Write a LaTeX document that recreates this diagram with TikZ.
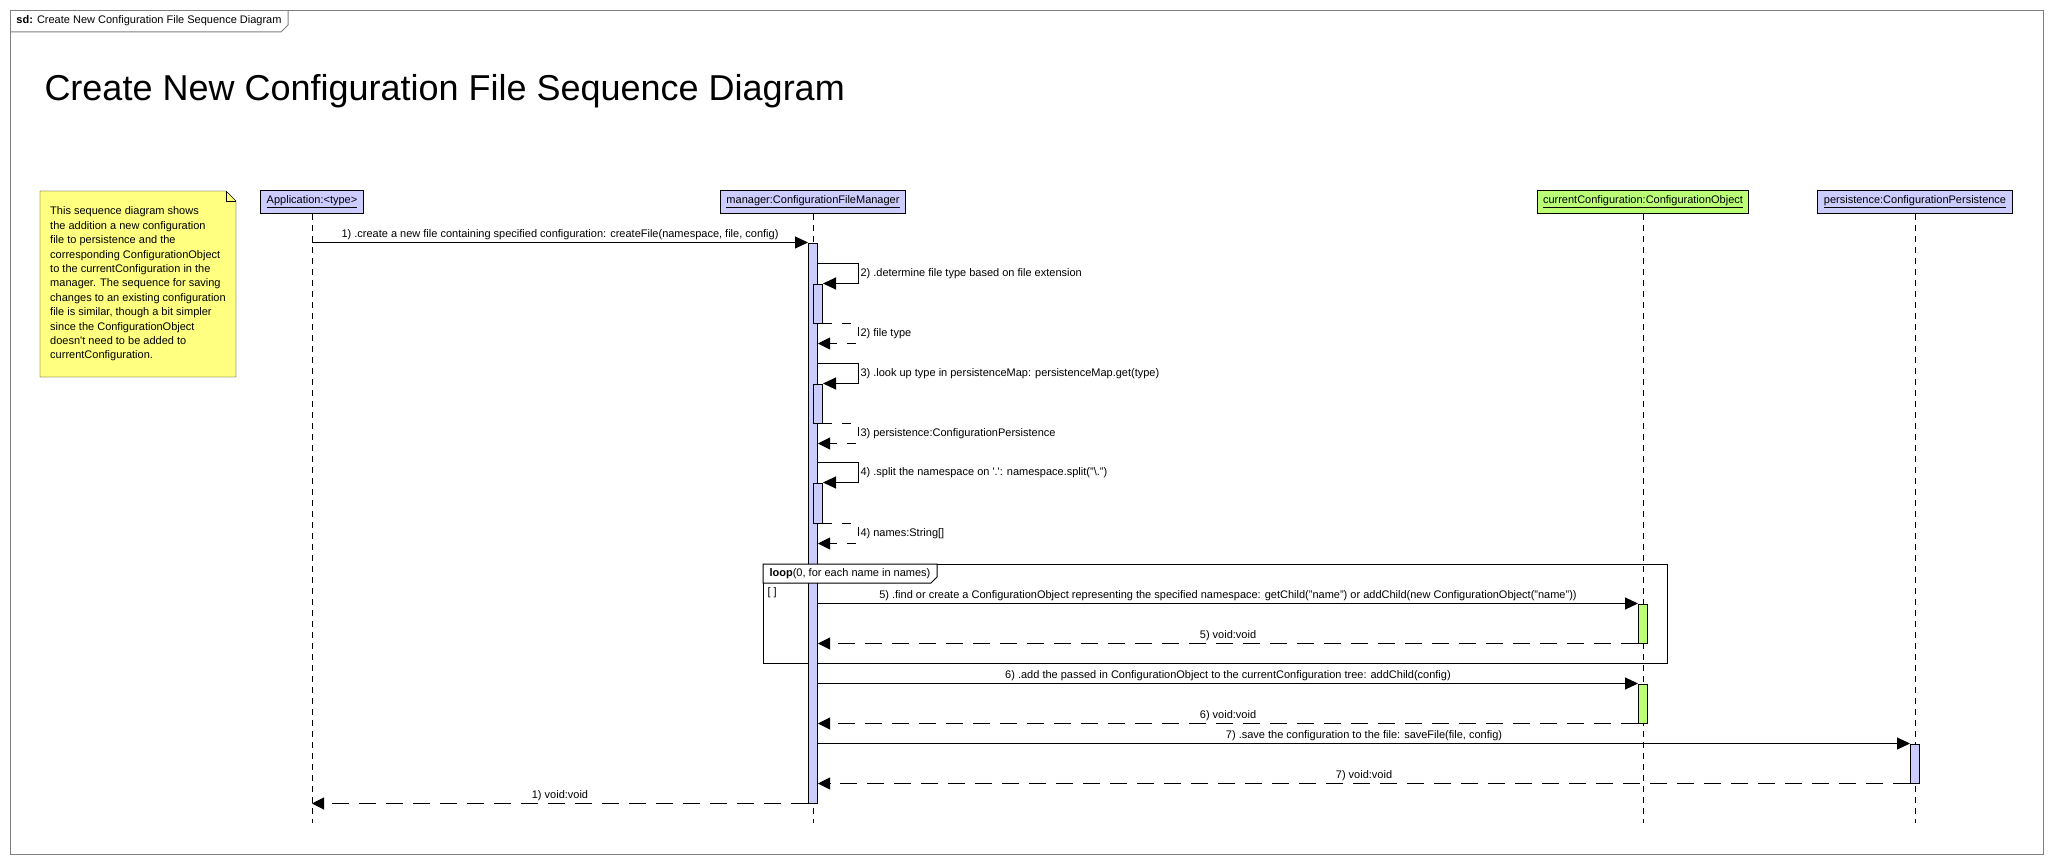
\documentclass[tikz,border=0pt]{standalone}
\usepackage{fontspec}
\setmainfont{Liberation Sans}
\usepackage{xcolor}
\usetikzlibrary{shapes,arrows.meta,positioning,calc,backgrounds}

\definecolor{lilac}{RGB}{204,204,255}
\definecolor{lime}{RGB}{187,255,119}
\definecolor{memo}{RGB}{255,255,128}
\definecolor{framegray}{RGB}{128,128,128}

\newcommand{\msgfont}{\fontsize{11}{13}\selectfont}

\begin{document}
\begin{tikzpicture}[x=1pt, y=-1pt, line width=1pt, font=\msgfont,
    head/.style={rectangle, draw, fill=lilac, minimum height=23pt, inner xsep=6pt},
    bar/.style={rectangle, draw, fill=lilac, minimum width=9pt, inner sep=0pt},
    lifeline/.style={dash pattern=on 6pt off 5pt},
    call/.style={-{Triangle[length=13pt,width=12pt]}},
    ret/.style={dash pattern=on 17pt off 10pt, -{Triangle[length=12pt,width=12pt]}},
    selfret/.style={dash pattern=on 9pt off 10pt, -{Triangle[length=12pt,width=12pt]}},
    msg/.style={inner sep=2pt}]
    \useasboundingbox (0,0) rectangle (2053,864);

    \node[draw=framegray, anchor=north west, minimum width=2033pt, minimum height=844pt, inner sep=0pt] (frame) at (10,10) {};
    \node[anchor=north west, minimum width=277pt, minimum height=21pt, inner sep=0pt] (sdtab) at (frame.north west) {\textbf{sd:} Create New Configuration File Sequence Diagram};
    \draw[framegray] (sdtab.north east) -- ([yshift=7pt]sdtab.south east) -- ([xshift=-7pt]sdtab.south east) -- (sdtab.south west);

    \node[anchor=base west, inner sep=0pt, font=\fontsize{36}{40}\selectfont] (title) at (44,101) {Create New Configuration File Sequence Diagram};

    \node[anchor=north west, align=left, minimum width=195pt, minimum height=185pt, inner sep=0pt, font=\fontsize{11}{14.4}\selectfont] (note) at (40,191) {This sequence diagram shows\\the addition a new configuration\\file to persistence and the\\corresponding ConfigurationObject\\to the currentConfiguration in the\\manager. The sequence for saving\\changes to an existing configuration\\file is similar, though a bit simpler\\since the ConfigurationObject\\doesn\textquotesingle t need to be added to\\currentConfiguration.};
    \begin{scope}[on background layer]
        \filldraw[fill=memo] (note.north west) -- ([xshift=-10pt]note.north east) -- ([yshift=-10pt]note.north east) -- (note.south east) -- (note.south west) -- cycle;
    \end{scope}
    \draw ([xshift=-10pt]note.north east) |- ([yshift=-10pt]note.north east);

    \node[draw, anchor=north west, minimum width=904pt, minimum height=99pt, inner sep=0pt] (loopbox) at (763,564) {};

    \node[head] (app) at (312,202) {\underline{Application:<type>}};
    \node[head] (mgr) at (813,202) {\underline{manager:ConfigurationFileManager}};
    \node[head, fill=lime] (cur) at (1643,202) {\underline{currentConfiguration:ConfigurationObject}};
    \node[head] (pers) at (1915,202) {\underline{persistence:ConfigurationPersistence}};

    \coordinate (bottom) at (0,823);
    \draw[lifeline] (app.south) -- (app.south |- bottom);
    \draw[lifeline] (mgr.south) -- (mgr.south |- bottom);
    \draw[lifeline] (cur.south) -- (cur.south |- bottom);
    \draw[lifeline] (pers.south) -- (pers.south |- bottom);

    \node[bar, minimum height=560pt] (mbar) at (813,523) {};
    \node[bar, minimum height=39pt] (b2) at (818,303.5) {};
    \node[bar, minimum height=39pt] (b3) at (818,403.5) {};
    \node[bar, minimum height=40pt] (b4) at (818,503) {};
    \node[bar, fill=lime, minimum height=39pt] (c5) at (1643,623.5) {};
    \node[bar, fill=lime, minimum height=39pt] (c6) at (1643,703.5) {};
    \node[bar, minimum height=39pt] (p7) at (1915,763.5) {};

    \node[anchor=north west, minimum width=173pt, minimum height=18pt, inner sep=0pt] (looptab) at (loopbox.north west) {};
    \filldraw[fill=white] (looptab.north west) -- (looptab.north east) -- ([yshift=6pt]looptab.south east) -- ([xshift=-6pt]looptab.south east) -- (looptab.south west) -- cycle;
    \node (looptext) at (looptab) {\textbf{loop}(0, for each name in names)};
    \node[anchor=north west, inner sep=0pt] (guard) at ([shift={(4pt,-4pt)}]looptab.south west) {[ ]};

    \draw[call] (mbar.north west -| app) -- node[msg, above] {1) .create a new file containing specified configuration: createFile(namespace, file, config)} (mbar.north west);

    \draw[call] ([yshift=20pt]b2.north -| mbar.east) -- ++(40,0) -- node[msg, right] {2) .determine file type based on file extension} ++(0,20) -- (b2.north east);
    \draw[selfret] (b2.south east) -- ++(35,0) -- node[msg, right] {2) file type} ++(0,20) -- ([yshift=-20pt]b2.south east -| mbar.east);

    \draw[call] ([yshift=20pt]b3.north -| mbar.east) -- ++(40,0) -- node[msg, right] {3) .look up type in persistenceMap: persistenceMap.get(type)} ++(0,20) -- (b3.north east);
    \draw[selfret] (b3.south east) -- ++(35,0) -- node[msg, right] {3) persistence:ConfigurationPersistence} ++(0,20) -- ([yshift=-20pt]b3.south east -| mbar.east);

    \draw[call] ([yshift=20pt]b4.north -| mbar.east) -- ++(40,0) -- node[msg, right] {4) .split the namespace on \textquotesingle.\textquotesingle: namespace.split("\textbackslash.")} ++(0,20) -- (b4.north east);
    \draw[selfret] (b4.south east) -- ++(35,0) -- node[msg, right] {4) names:String[]} ++(0,20) -- ([yshift=-20pt]b4.south east -| mbar.east);

    \draw[call] (c5.north west -| mbar.east) -- node[msg, above] {5) .find or create a ConfigurationObject representing the specified namespace: getChild("name") or addChild(new ConfigurationObject("name"))} (c5.north west);
    \draw[ret] (c5.south west) -- node[msg, above] {5) void:void} (c5.south west -| mbar.east);

    \draw[call] (c6.north west -| mbar.east) -- node[msg, above] {6) .add the passed in ConfigurationObject to the currentConfiguration tree: addChild(config)} (c6.north west);
    \draw[ret] (c6.south west) -- node[msg, above] {6) void:void} (c6.south west -| mbar.east);

    \draw[call] (p7.north west -| mbar.east) -- node[msg, above] {7) .save the configuration to the file: saveFile(file, config)} (p7.north west);
    \draw[ret] (p7.south west) -- node[msg, above] {7) void:void} (p7.south west -| mbar.east);

    \draw[ret] (mbar.south west) -- node[msg, above] {1) void:void} (mbar.south west -| app);
\end{tikzpicture}
\end{document}
